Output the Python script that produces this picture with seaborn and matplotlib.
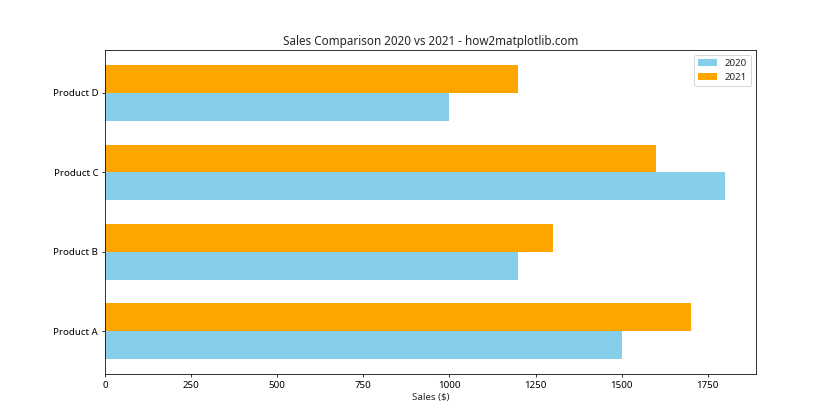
import matplotlib
matplotlib.use("Agg")
import matplotlib.pyplot as plt
import seaborn as sns
import pandas as pd

products = ["Product A", "Product B", "Product C", "Product D"]
sales_2020 = [1500, 1200, 1800, 1000]
sales_2021 = [1700, 1300, 1600, 1200]
years = ["2020", "2021"]
colors = ["skyblue", "orange"]

sns.set_style("white")
plt.rcParams["font.family"] = ["Noto Sans", "DejaVu Sans"]
plt.rcParams["font.size"] = 10

df = pd.DataFrame({
    "Product": products * 2,
    "Sales": sales_2020 + sales_2021,
    "Year": [years[0]] * len(products) + [years[1]] * len(products),
})

fig, ax = plt.subplots(figsize=(12, 6), dpi=70)
sns.barplot(data=df, y="Product", x="Sales", hue="Year", hue_order=years,
            palette=colors, orient="h", width=0.7, saturation=1, ax=ax,
            order=products, linewidth=0, edgecolor="none")
ax.invert_yaxis()
ax.set_ylim(-0.535, 3.535)
ax.set_xlim(0, 1890)
ax.set_xlabel("Sales ($)")
ax.set_ylabel("")
ax.set_title("Sales Comparison 2020 vs 2021 - how2matplotlib.com")
for s in ax.spines.values():
    s.set_visible(True)
    s.set_color("black")
    s.set_linewidth(0.8)
ax.tick_params(axis="both", which="both", length=3.5, width=0.8, colors="black", left=True, bottom=True)
ax.legend(loc="upper right", title=None)
fig.savefig("out.png", dpi=70)
